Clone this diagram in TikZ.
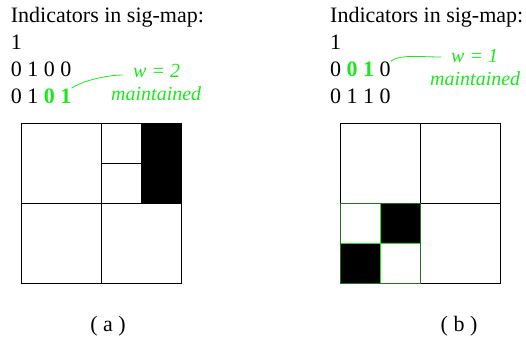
\documentclass[tikz,border=0pt]{standalone}
\usepackage{fontspec}
\setmainfont{Liberation Serif}
\definecolor{lime}{RGB}{30,230,30}
\definecolor{darklime}{RGB}{40,110,40}
\tikzset{
  txt/.style={inner sep=0pt, anchor=base west, font=\rmfamily\fontsize{22}{27}\selectfont},
  note/.style={inner sep=0pt, anchor=base west, text=lime, font=\rmfamily\fontsize{20}{24}\selectfont\itshape},
  grid/.style={line width=1pt},
}
\newcommand{\hl}[1]{\textcolor{lime}{\textbf{#1}}}

\begin{document}
\begin{tikzpicture}[x=1pt,y=-1pt]
        \useasboundingbox (0,0) rectangle (526,337);
        % --- (a): indicators and map ---
        \begin{scope}
            \node[txt] (ta) at (10.7,22.7) {Indicators in sig-map:};
            \node[txt] (a1) at (10.7,49) {1};
            \node[txt] (a2) at (10.7,76) {0 1 0 0};
            \node[txt] (a3) at (10.7,103) {0 1 \hl{0 1}};
            \node[note] (wa) at (133,77) {w = 2};
            \node[note] (ma) at (111,100) {maintained};
            \coordinate (ca) at ([xshift=-10pt,yshift=2pt]wa.base west);
            \draw[lime,line width=0.8pt] (a3.north east) .. controls +(12,-8) and +(-15,0) .. (ca);
            \fill[black] (141,123) rectangle (181,203);
            \draw[grid] (21,123) rectangle (181,283);
            \draw[grid] (101,123) -- (101,283)  (21,203) -- (181,203);
            \draw[grid] (141,123) -- (141,203)  (101,163) -- (141,163);
            \node[txt,anchor=base] (la) at (108,331) {( a )};
        \end{scope}
        % --- (b): indicators and map ---
        \begin{scope}
            \node[txt] (tb) at (330,22.7) {Indicators in sig-map:};
            \node[txt] (b1) at (330,49) {1};
            \node[txt] (b2) at (330,76) {0 \hl{0 1} 0};
            \node[txt] (b3) at (330,103) {0 1 1 0};
            \node[note] (wb) at (451,63) {w = 1};
            \node[note] (mb) at (430,85) {maintained};
            \coordinate (cb) at ([xshift=-10pt,yshift=6pt]wb.base west);
            \draw[lime,line width=0.8pt] (b2.north east) .. controls +(8,-7) and +(-20,0) .. (cb);
            \draw[grid] (340,123) rectangle (500,283);
            \draw[grid] (420,123) -- (420,283)  (340,203) -- (500,203);
            \fill[black] (380,203) rectangle (420,243)  (340,243) rectangle (380,283);
            \draw[lime,line width=1pt] (380,203) -- (380,283)  (340,243) -- (420,243);
            \draw[lime,line width=1pt] (380,203) rectangle (420,243)  (340,243) rectangle (380,283);
            \draw[darklime,line width=1pt] (340,203) rectangle (420,283);
            \node[txt,anchor=base] (lb) at (459,331) {( b )};
        \end{scope}
\end{tikzpicture}
\end{document}
